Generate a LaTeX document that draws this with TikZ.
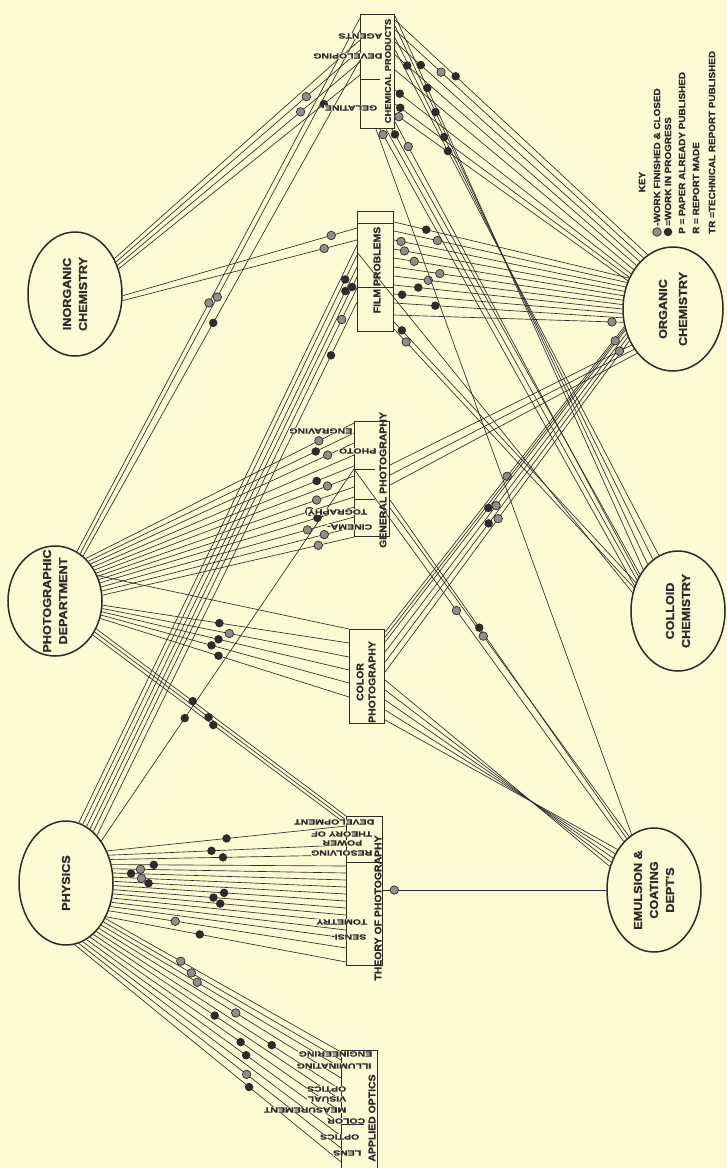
\documentclass[tikz,border=0pt]{standalone}
\usepackage{fontspec}
\newfontfamily\namefont{Liberation Sans}[FakeStretch=1.1, BoldFeatures={FakeBold=1.2}]
\newfontfamily\subfont{Liberation Sans}[FakeStretch=1.4, BoldFeatures={FakeBold=0.8}]
\usetikzlibrary{calc,shapes.geometric}

\definecolor{paper}{RGB}{250,250,212}
\definecolor{ink}{RGB}{52,40,42}
\definecolor{dotgray}{RGB}{150,140,135}

\tikzset{
  dept/.style={ellipse, draw=ink, line width=1.5pt, inner sep=0pt, minimum width=94pt, minimum height=120pt},
  box/.style={rectangle, draw=ink, line width=1.1pt, inner sep=0pt, anchor=north west},
  link/.style={draw=ink, line width=0.65pt},
  fin/.style={circle, draw=ink, fill=dotgray, line width=0.7pt, inner sep=0pt, minimum size=8.5pt},
  prog/.style={circle, fill=ink, inner sep=0pt, minimum size=8.5pt},
  skip/.style={inner sep=0pt},
  deptname/.style={font=\namefont\bfseries\fontsize{11.5}{16}\selectfont, text=ink, align=center, rotate=90},
  boxtitle/.style={font=\namefont\bfseries\fontsize{9.5}{12}\selectfont, text=ink, align=center, rotate=90, inner sep=0.5pt},
  sub/.style={font=\subfont\bfseries\fontsize{7.5}{8}\selectfont, text=ink, rotate=180, anchor=west, fill=paper, inner sep=0.6pt},
  keyline/.style={font=\namefont\bfseries\fontsize{9}{10}\selectfont, text=ink, rotate=90, anchor=west, inner sep=0pt},
}

\begin{document}
\begin{tikzpicture}[x=1pt, y=-1pt]
  \fill[paper] (0,0) rectangle (727,1168);
  \useasboundingbox (0,0) rectangle (727,1168);

  % departments
  \node[dept, minimum height=124pt] (inorg) at (75,294) {};
  \node[dept, minimum width=100pt, minimum height=124pt] (org) at (673,309) {};
  \node[dept, minimum height=110pt] (photo) at (55,601) {};
  \node[dept] (coll) at (678,611) {};
  \node[dept, minimum height=124pt] (phys) at (66,883) {};
  \node[dept, minimum height=124pt] (emul) at (654,890) {};

  % problem boxes
  \node[box, minimum width=34pt, minimum height=114pt] (chem) at (360,14) {};
  \node[box, minimum width=36pt, minimum height=120pt] (film) at (357,211) {};
  \node[box, minimum width=35pt, minimum height=115pt] (gen) at (354,421) {};
  \node[box, minimum width=35pt, minimum height=94pt] (color) at (349,629) {};
  \node[box, minimum width=36pt, minimum height=149pt] (theo) at (346,816) {};
  \node[box, minimum width=36pt, minimum height=120pt] (appl) at (341,1050) {};

  % dividers inside the boxes
  \begin{scope}[draw=ink, line width=1pt]
    \draw (chem.west |- 0,79) -- ++(20,0);
    \draw (film.west |- 0,223) -- (film.east |- 0,223);
    \draw (film.west |- 0,287) -- (film.east |- 0,287);
    \draw (gen.west |- 0,469) -- ++(21,0);
    \draw (gen.west |- 0,499) -- ++(21,0);
    \draw (theo.west |- 0,862) -- (theo.east |- 0,862);
    \draw (appl.west |- 0,1124) -- ++(23,0);
  \end{scope}

  % physics
  \foreach \a/\y/\p/\k in {38/826/0.5/prog, 33/845/0.433/prog, 28/855/0.478/prog,
      22/866/0.18/prog, 17/873/0.12/fin, 12/880/0.077/prog, 7/887/0.12/fin,
      2/894/0.15/prog, -3/901/0.475/prog, -8/908/0.43/prog, -13/915/0.46/prog,
      -18/922/0.5/skip, -23/930/0.5/skip, -28/938/0.5/skip, -33/948/0.28/fin,
      -40/962/0.39/prog}
    \draw[link] (phys.\a) -- (theo.west |- 0,\y) node[pos=\p, \k] {};
  \foreach \a/\y/\p/\k in {-42/1052/0.32/fin, -46/1060/0.37/fin, -50/1068/0.40/fin,
      -54/1078/0.565/fin, -58/1090/0.717/prog, -62/1100/0.49/prog, -66/1112/0.6/prog,
      -70/1124/0.627/prog, -74/1136/0.5/skip, -78/1148/0.64/fin, -82/1162/0.655/prog}
    \draw[link] (phys.\a) -- (appl.west |- 0,\y) node[pos=\p, \k] {};
  \foreach \a/\y/\p/\k in {78/245/0.5/skip, 74/255/0.957/prog, 70/267/0.957/prog,
      66/277/0.982/prog, 62/288/0.942/fin, 57/302/0.9/prog}
    \draw[link] (phys.\a) -- (film.west |- 0,\y) node[pos=\p, \k] {};
  \draw[link] (phys.50) -- (gen.west |- 0,469) node[pos=0.33, prog] {};

  % photographic department
  \foreach \a/\y/\p/\k in {66/18/0.466/fin, 62/30/0.49/fin, 58/60/0.47/prog}
    \draw[link] (photo.\a) -- (chem.west |- 0,\y) node[pos=\p, \k] {};
  \foreach \a/\y/\p/\k in {54/423/0.869/fin, 50/433/0.856/prog, 46/443/0.9/fin,
      42/455/0.5/skip, 38/466/0.856/prog, 34/476/0.897/fin, 30/487/0.854/fin,
      26/497/0.826/fin, 22/507/0.856/prog, 17/517/0.816/fin, 12/527/0.882/fin,
      7/537/0.858/fin}
    \draw[link] (photo.\a) -- (gen.west |- 0,\y) node[pos=\p, \k] {};
  \foreach \a/\y/\p/\k in {-5/643/0.474/prog, -9/657/0.515/fin, -13/670/0.472/prog,
      -17/683/0.445/prog, -21/697/0.475/prog}
    \draw[link] (photo.\a) -- (color.west |- 0,\y) node[pos=\p, \k] {};
  \draw[link] (photo.31) -- (color.north west);
  \foreach \a/\y/\p in {-34/816/0.386, -38/820/0.453, -42/824/0.476}
    \draw[link] (photo.\a) -- (theo.west |- 0,\y) node[pos=\p, prog] {};

  % inorganic chemistry
  \foreach \a/\y/\p/\k in {42/40/0.5/skip, 38/50/0.78/fin, 34/62/0.755/fin, 30/75/0.85/prog}
    \draw[link] (inorg.\a) -- (chem.west |- 0,\y) node[pos=\p, \k] {};
  \foreach \a/\y/\p/\k in {-2/228/0.89/fin, -8/240/0.86/fin}
    \draw[link] (inorg.\a) -- (film.west |- 0,\y) node[pos=\p, \k] {};

  % organic chemistry
  \foreach \y/\a/\p/\k in {20/115/0.24/prog, 30/120/0.185/fin, 42/125/0.105/prog,
      55/130/0.05/prog, 70/135/0.5/skip, 90/140/0.02/prog, 104/144/0.022/prog,
      114/148/0.016/fin}
    \draw[link] (chem.east |- 0,\y) -- (org.\a) node[pos=\p, \k] {};
  \foreach \y/\a/\p/\k in {222/145/0.137/prog, 231/150/0.186/fin, 240/155/0.03/fin,
      249/160/0.045/fin, 258/165/0.088/fin, 267/170/0.2/fin, 276/175/0.15/fin,
      285/180/0.106/prog, 294/185/0.035/prog, 303/190/0.18/prog, 315/195/0.95/fin}
    \draw[link] (film.east |- 0,\y) -- (org.\a) node[pos=\p, \k] {};
  \foreach \a/\y/\p/\k in {200/632/0.49/fin, 204/642/0.57/prog, 208/652/0.54/fin,
      212/662/0.573/prog, 216/672/0.537/fin}
    \draw[link] (org.\a) -- (color.east |- 0,\y) node[pos=\p, \k] {};
  \draw[link] (org.202) -- (color.east |- 0,637) node[pos=0.04, fin] {};
  \foreach \a/\y/\p/\k in {221/465/0.05/fin, 226/475/0.5/skip, 231/485/0.5/skip}
    \draw[link] (org.\a) -- (gen.east |- 0,\y) node[pos=\p, \k] {};

  % colloid chemistry
  \foreach \y/\a/\p/\k in {16/130/0.13/prog, 26/123/0.16/prog, 38/116/0.19/prog, 50/109/0.2/prog}
    \draw[link] (chem.east |- 0,\y) -- (coll.\a) node[pos=\p, \k] {};
  \foreach \x/\a/\p/\k in {380/150/0.012/fin, 386/143/0.5/skip, 392/136/0.012/prog}
    \draw[link] (\x,0 |- chem.south) -- (coll.\a) node[pos=\p, \k] {};
  \draw[link] (chem.east |- 0,122) -- (coll.139) node[pos=0.054, fin] {};
  \draw[link] (film.west |- 0,252) -- (coll.158);
  \draw[link] (film.east |- 0,322) -- (coll.146) node[pos=0.032, prog] {};
  \draw[link] (film.east |- 0,329) -- (coll.152) node[pos=0.05, fin] {};

  % emulsion & coating
  \draw[link] (376,0 |- chem.south) -- (emul.112);
  \draw[link] (gen.west |- 0,469) -- (emul.122) node[pos=0.38, fin] {};
  \draw[link] (gen.east |- 0,500) -- (emul.118) node[pos=0.377, prog] {};
  \draw[link] (gen.east |- 0,508) -- (emul.115) node[pos=0.39, fin] {};
  \foreach \y/\a in {680/152, 690/147, 700/142, 710/137, 720/132}
    \draw[link] (color.east |- 0,\y) -- (emul.\a);
  \draw[link] (theo.east |- emul.west) -- (emul.west) node[pos=0.05, fin] {};

  % department names
  \node[deptname] (inorglabel) at (inorg) {INORGANIC\\CHEMISTRY};
  \node[deptname, font=\namefont\bfseries\fontsize{11.5}{20}\selectfont] (orglabel) at (org) {ORGANIC\\CHEMISTRY};
  \node[deptname] (photolabel) at (photo) {PHOTOGRAPHIC\\DEPARTMENT};
  \node[deptname] (colllabel) at (coll) {COLLOID\\CHEMISTRY};
  \node[deptname] (physlabel) at (phys) {PHYSICS};
  \node[deptname] (emullabel) at (emul) {EMULSION \&\\COATING\\DEPT'S};

  % box titles
  \node[boxtitle, font=\namefont\bfseries\fontsize{8.5}{11}\selectfont] (chemtitle) at (388,71) {CHEMICAL PRODUCTS};
  \node[boxtitle] (filmtitle) at (377,270) {FILM PROBLEMS};
  \node[boxtitle] (gentitle) at (383,480) {GENERAL PHOTOGRAPHY};
  \node[boxtitle] (colortitle) at (366,682) {COLOR\\PHOTOGRAPHY};
  \node[boxtitle] (theotitle) at (378,908) {THEORY OF PHOTOGRAPHY};
  \node[boxtitle] (appltitle) at (372,1118) {APPLIED OPTICS};

  % sub-headings
  \node[sub] (agents) at (383,36) {AGENTS};
  \node[sub] (developing) at (383,56) {DEVELOPING};
  \node[sub] (gelatine) at (378,108) {GELATINE};
  \node[sub] (engraving) at (353,431) {ENGRAVING};
  \node[sub] (photoeng) at (377,451) {PHOTO};
  \node[sub] (tography) at (368,512) {TOGRAPHY};
  \node[sub] (cinema) at (373,527) {CINEMA-};
  \node[sub] (development) at (375,822) {DEVELOPMENT};
  \node[sub] (theoryof) at (373,834) {THEORY OF};
  \node[sub] (power) at (363,843) {POWER};
  \node[sub] (resolving) at (373,853) {RESOLVING};
  \node[sub] (tometry) at (368,922) {TOMETRY};
  \node[sub] (sensi) at (367,937) {SENSI-};
  \node[sub] (engineering) at (373,1054) {ENGINEERING};
  \node[sub] (illuminating) at (372,1066) {ILLUMINATING};
  \node[sub] (visoptics) at (347,1089) {OPTICS};
  \node[sub] (visual) at (347,1099) {VISUAL};
  \node[sub] (measurement) at (347,1110) {MEASUREMENT};
  \node[sub] (colormeas) at (366,1121) {COLOR};
  \node[sub] (lensoptics) at (360,1137) {OPTICS};
  \node[sub] (lens) at (362,1153) {LENS};

  % key
  \node[keyline, anchor=center] (keyhead) at (642,182) {KEY};
  \node[fin] (keyfin) at (657,232) {};
  \node[keyline] (keyfintext) at (657,226) {-WORK FINISHED \& CLOSED};
  \node[prog] (keyprog) at (668,232) {};
  \node[keyline] (keyprogtext) at (668,226) {=WORK IN PROGRESS};
  \node[keyline] (keypaper) at (682,234) {P = PAPER ALREADY PUBLISHED};
  \node[keyline] (keyreport) at (696,234) {R = REPORT MADE};
  \node[keyline] (keytech) at (712,234) {TR =TECHNICAL REPORT PUBLISHED};
\end{tikzpicture}
\end{document}
